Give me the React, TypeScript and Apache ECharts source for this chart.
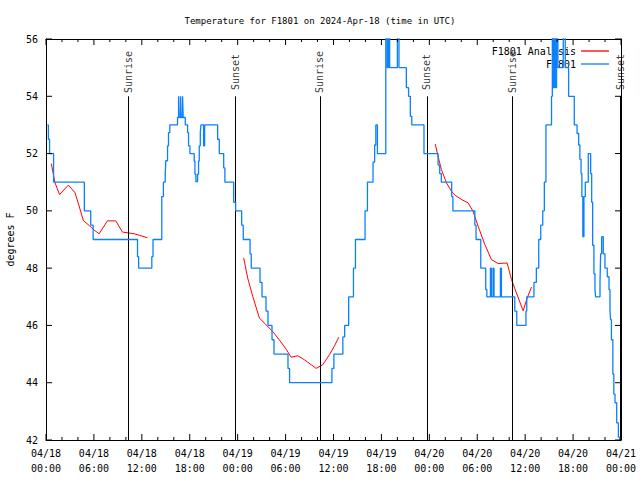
import React, { useEffect, useRef } from "react";
import * as echarts from "echarts";

// Hours since 2024-04-18 00:00 UTC, observed temperature (deg F)
const observedF1801: [number, number][] = [
  [0.17, 53], [0.3, 52.5], [0.45, 52], [0.95, 51],
  [4.8, 50], [5.6, 49.5], [5.9, 49],
  [11.46, 48.4], [11.6, 48], [13.25, 48.4], [13.4, 49],
  [14.5, 50.5], [14.7, 51], [14.93, 51.3], [15.0, 51.75], [15.22, 52.27], [15.34, 52.73], [15.5, 53],
  [16.47, 53.26], [16.6, 54], [16.68, 53.26], [16.85, 54], [16.93, 53.26], [17.1, 54], [17.18, 53.26],
  [17.44, 53], [17.73, 52.73], [17.85, 52.27], [18.02, 52],
  [18.56, 51.74], [18.65, 51.28], [18.77, 51.02], [18.98, 51.28], [19.1, 51.74], [19.19, 52.27],
  [19.32, 52.73], [19.4, 53], [19.73, 52.27], [19.86, 53],
  [21.49, 52.5], [21.7, 52], [22.25, 51.5], [22.4, 51], [23.5, 50.3], [23.75, 50],
  [24.5, 49.5], [24.7, 49], [25.55, 48.5], [25.7, 48], [26.8, 47.5], [27.05, 47], [27.55, 46.5],
  [27.8, 46], [28.3, 45.5], [28.55, 45], [30.3, 44.5], [30.5, 44],
  [35.8, 44.5], [36.05, 45], [37.17, 45.6], [37.4, 46], [37.9, 47], [38.5, 48], [38.75, 49],
  [39.95, 50], [40.25, 51], [40.95, 51.7], [41.15, 52.3], [41.3, 53], [41.5, 52],
  [42.55, 57], [42.73, 55], [42.86, 57], [43.03, 55], [44.0, 57], [44.2, 55],
  [45.12, 54.3], [45.4, 54], [45.62, 53.3], [45.8, 53], [47.33, 52],
  [49.1, 51.6], [49.3, 51.3], [49.5, 51], [50.8, 50.5], [50.95, 50],
  [53.7, 49.5], [53.85, 49], [54.44, 48], [55.06, 47.25], [55.2, 47], [55.65, 48], [55.78, 47],
  [55.99, 48], [56.1, 47], [56.9, 48], [57.03, 47],
  [58.7, 46.5], [58.95, 46], [60.1, 46.5], [60.2, 47], [61.1, 47.5], [61.4, 48], [61.7, 49], [61.95, 49.5],
  [62.2, 50], [62.4, 51], [62.6, 53], [63.3, 54], [63.4, 57], [63.5, 54.3], [63.65, 57], [63.76, 54.3],
  [63.93, 57], [64.1, 55], [64.77, 57], [65.02, 55], [65.44, 54], [66.15, 53],
  [66.5, 52.7], [66.7, 52.3], [66.85, 51.8], [67.0, 51.3], [67.1, 50.5], [67.22, 49.1], [67.36, 50.5],
  [67.53, 51], [67.9, 52], [68.2, 51.3], [68.33, 50.3], [68.45, 48.8], [68.61, 47.8], [68.74, 47.25],
  [68.82, 47], [69.37, 47.5], [69.45, 48.5], [69.58, 49.1], [69.78, 48.5], [69.99, 48], [70.28, 47.7],
  [70.5, 47.25], [70.62, 46.5], [70.7, 46.2], [70.8, 45.5], [70.98, 44.3], [71.1, 43.6], [71.25, 43.3],
  [71.46, 42.6], [71.67, 42.1], [71.85, 42],
];

const analysisSeg1: [number, number][] = [
  [0.67, 51.65], [1.1, 51.0], [1.7, 50.57], [2.8, 50.9], [3.64, 50.63], [4.14, 50.17], [4.68, 49.66],
  [5.4, 49.49], [6.02, 49.33], [6.65, 49.2], [7.69, 49.65], [8.74, 49.65], [9.57, 49.26], [11.04, 49.2],
  [11.67, 49.15], [12.7, 49.06],
];
const analysisSeg2: [number, number][] = [
  [24.75, 48.36], [25.25, 47.66], [25.88, 47.02], [26.72, 46.26], [27.56, 46.02], [28.39, 45.79],
  [29.2, 45.5], [30.07, 45.17], [30.7, 44.89], [31.53, 44.94], [32.36, 44.8], [33.2, 44.63],
  [33.83, 44.5], [34.66, 44.63], [35.5, 44.98], [36.13, 45.29], [36.67, 45.59],
];
const analysisSeg3: [number, number][] = [
  [48.75, 52.33], [49.08, 51.92], [49.5, 51.45], [50.14, 50.98], [50.76, 50.69], [51.18, 50.55],
  [52.01, 50.4], [52.85, 50.28], [53.47, 49.99], [54.1, 49.47], [54.94, 48.83], [55.78, 48.3],
  [56.61, 48.16], [57.74, 48.18], [58.29, 47.6], [58.91, 47.13], [59.75, 46.51], [60.25, 46.96],
  [60.8, 47.34],
];

const sunEventHours = [10.32, 23.75, 34.28, 47.7, 58.37, 71.88];
const sunEventLabels = ["Sunrise", "Sunset", "Sunrise", "Sunset", "Sunrise", "Sunset"];

const xTickLabels = [
  "04/18\n00:00", "04/18\n06:00", "04/18\n12:00", "04/18\n18:00",
  "04/19\n00:00", "04/19\n06:00", "04/19\n12:00", "04/19\n18:00",
  "04/20\n00:00", "04/20\n06:00", "04/20\n12:00", "04/20\n18:00",
  "04/21\n00:00",
];
const xMajorTickHours = [0, 6, 12, 18, 24, 30, 36, 42, 48, 54, 60, 66, 72];
const xMinorTickHours = [2, 4, 8, 10, 14, 16, 20, 22, 26, 28, 32, 34, 38, 40, 44, 46, 50, 52, 56, 58, 62, 64, 68, 70];
const yTicks = [42, 44, 46, 48, 50, 52, 54, 56];

const FONT = "DejaVu Sans Mono";
const BLUE = "#0a80ff";
const RED = "#ff0000";
const X_MIN = 0;
const X_MAX = 72;

function xAxisDef(position: string, showLabels: boolean) {
  return {
    type: "value",
    position,
    min: X_MIN,
    max: X_MAX,
    interval: 6,
    axisLine: { show: true, onZero: false, lineStyle: { color: "#000", width: 1 } },
    axisTick: { show: false },
    splitLine: { show: false },
    axisLabel: showLabels
      ? {
          show: true,
          fontFamily: FONT,
          fontSize: 10,
          color: "#000",
          lineHeight: 15,
          margin: 6,
          formatter: (v: number) => xTickLabels[Math.round(v / 6)] ?? "",
        }
      : { show: false },
  };
}

function yAxisDef(position: string, showLabels: boolean) {
  const base: any = {
    type: "value",
    position,
    min: yTicks[0],
    max: yTicks[yTicks.length - 1],
    interval: 2,
    axisLine: { show: true, onZero: false, lineStyle: { color: "#000", width: 1 } },
    axisTick: { show: false },
    splitLine: { show: false },
    axisLabel: showLabels
      ? { show: true, fontFamily: FONT, fontSize: 10, color: "#000", margin: 8 }
      : { show: false },
  };
  if (showLabels) {
    base.name = "degrees F";
    base.nameLocation = "middle";
    base.nameRotate = 90;
    base.nameGap = 31;
    base.nameTextStyle = { fontFamily: FONT, fontSize: 10, color: "#000" };
  }
  return base;
}

// tick items: [x, y, kind(0 = x tick, 1 = y tick), length px]
const tickData: number[][] = [
  ...xMajorTickHours.map((h) => [h, yTicks[0], 0, 6]),
  ...xMinorTickHours.map((h) => [h, yTicks[0], 0, 3]),
  ...yTicks.map((v) => [X_MIN, v, 1, 6]),
];

export default function App() {
  const ref = useRef<HTMLDivElement>(null);
  useEffect(() => {
    if (!ref.current) return;
    const chart = echarts.init(ref.current, null, { renderer: "svg" });
    const yMin = yTicks[0];
    const yMax = yTicks[yTicks.length - 1];
    chart.setOption({
      animation: false,
      backgroundColor: "#fff",
      textStyle: { fontFamily: FONT, color: "#000" },
      title: {
        text: "Temperature for F1801 on 2024-Apr-18 (time in UTC)",
        left: "center",
        top: 11,
        textStyle: { fontFamily: FONT, fontSize: 9, fontWeight: "normal", color: "#000" },
      },
      legend: {
        data: [
          { name: "F1801 Analysis", icon: "rect", itemStyle: { color: RED } },
          { name: "F1801", icon: "rect", itemStyle: { color: BLUE } },
        ],
        orient: "vertical",
        align: "right",
        right: 26,
        top: 40,
        itemWidth: 28,
        itemHeight: 1.3,
        itemGap: 1,
        textStyle: { fontFamily: FONT, fontSize: 10, color: "#000", lineHeight: 12 },
      },
      grid: { left: 46, right: 19, top: 39, bottom: 40, show: false, outerBoundsMode: "none", containLabel: false },
      xAxis: [xAxisDef("bottom", true), xAxisDef("top", false)],
      yAxis: [yAxisDef("left", true), yAxisDef("right", false)],
      series: [
        {
          name: "ticks",
          type: "custom",
          silent: true,
          clip: false,
          z: 6,
          encode: { x: 0, y: 1 },
          data: tickData,
          renderItem: (params: any, api: any) => {
            const kind = api.value(2);
            const len = api.value(3);
            const style = { stroke: "#000", lineWidth: 1 };
            if (kind === 0) {
              const v = api.value(0);
              const b = api.coord([v, yMin]);
              const t = api.coord([v, yMax]);
              return {
                type: "group",
                children: [
                  { type: "line", shape: { x1: b[0], y1: b[1], x2: b[0], y2: b[1] - len }, style },
                  { type: "line", shape: { x1: t[0], y1: t[1], x2: t[0], y2: t[1] + len }, style },
                ],
              };
            }
            const v = api.value(1);
            const l = api.coord([X_MIN, v]);
            const r = api.coord([X_MAX, v]);
            return {
              type: "group",
              children: [
                { type: "line", shape: { x1: l[0], y1: l[1], x2: l[0] + len, y2: l[1] }, style },
                { type: "line", shape: { x1: r[0], y1: r[1], x2: r[0] - len, y2: r[1] }, style },
              ],
            };
          },
        },
        {
          name: "F1801 Analysis",
          type: "line",
          data: analysisSeg1,
          symbol: "none",
          lineStyle: { color: RED, width: 1 },
          itemStyle: { color: RED },
          z: 3,
        },
        {
          name: "F1801 Analysis",
          type: "line",
          data: analysisSeg2,
          symbol: "none",
          lineStyle: { color: RED, width: 1 },
          itemStyle: { color: RED },
          z: 3,
        },
        {
          name: "F1801 Analysis",
          type: "line",
          data: analysisSeg3,
          symbol: "none",
          lineStyle: { color: RED, width: 1 },
          itemStyle: { color: RED },
          z: 3,
        },
        {
          name: "F1801",
          type: "line",
          step: "end",
          data: observedF1801,
          symbol: "none",
          clip: true,
          lineStyle: { color: BLUE, width: 1.3 },
          itemStyle: { color: BLUE },
          z: 5,
          markLine: {
            silent: true,
            symbol: ["none", "none"],
            label: { show: false },
            lineStyle: { color: "#000", width: 1, type: "solid" },
            data: sunEventHours.map((h) => [{ coord: [h, 54] }, { coord: [h, 42] }]),
          },
        },
        {
          name: "sun",
          type: "scatter",
          symbolSize: 0,
          silent: true,
          data: sunEventHours.map((h, i) => ({
            value: [h, 54.85],
            label: { formatter: sunEventLabels[i] },
          })),
          label: {
            show: true,
            position: "inside",
            rotate: 90,
            fontFamily: FONT,
            fontSize: 10,
            color: "#000",
          },
          z: 4,
        },
      ],
    });
    return () => chart.dispose();
  }, []);
  return <div ref={ref} style={{ width: 640, height: 480, position: "fixed", left: 0, top: 0 }} />;
}
